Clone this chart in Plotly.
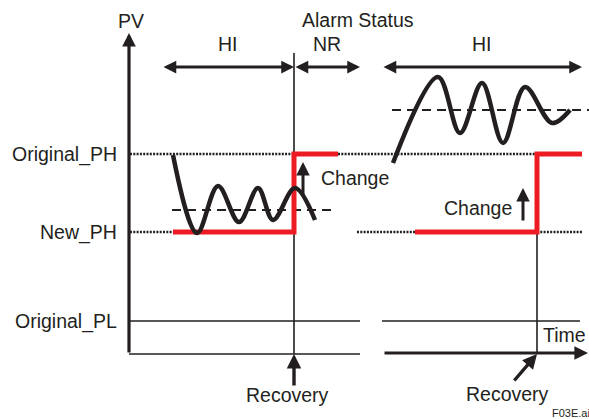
import plotly.graph_objects as go

W, H = 589, 419
_INK = "#231f20"
_RED = "#ed1c24"
_FONT = "Arial, Liberation Sans, Helvetica, sans-serif"

# diagram units: x = time, y = PV drawn downwards (same scale as the page)
LEVEL_NAMES = ["Original_PH", "New_PH", "Original_PL"]
LEVEL_Y = [154, 232, 321]
TIME_Y = 354
AXIS_X = 129
PV_TOP = 33
RECOVERY_T = [294, 537]

# dotted alarm setpoint guides: (level, t_start, t_end)
DOTTED = [
    (154, 130, 294), (154, 338, 537),
    (232, 130, 173), (232, 357, 415), (232, 537, 582),
]
# solid thin guides
SOLID = [
    (321, 129, 360), (321, 382, 580),
    (354, 129, 360),
]

# process value samples
PV_LEFT_T = [173, 197, 218, 239, 258, 273, 295, 315]
PV_LEFT_V = [155, 233, 186, 222, 188, 220, 188, 220]
PV_RIGHT_T = [393, 438, 460, 482, 503, 525, 552, 570]
PV_RIGHT_V = [163, 77, 133, 83, 143, 87, 123, 110]

# mean PV (dashed)
MEAN_LEFT = (210, 172, 337)
MEAN_RIGHT = (110, 392, 589)

# PH setpoint steps (red)
PH_LEFT_T = [173, 294, 294, 338]
PH_LEFT_V = [232, 232, 154, 154]
PH_RIGHT_T = [415, 537, 537, 582]
PH_RIGHT_V = [232, 232, 154, 154]

# alarm status spans
STATUS_Y = 67
STATUS = [("HI", 162, 294), ("NR", 294, 360), ("HI", 382, 582)]

fig = go.Figure()


def _line(x, y, color=_INK, width=1.6, dash="solid", shape="linear"):
    fig.add_trace(go.Scatter(
        x=x, y=y, mode="lines", hoverinfo="skip", showlegend=False,
        line=dict(color=color, width=width, dash=dash, shape=shape, smoothing=1.0),
    ))


def _arrow(x0, y0, x1, y1, width=3, both=False, size=0.85):
    fig.add_annotation(
        x=x1, y=y1, ax=x0, ay=y0, xref="x", yref="y", axref="x", ayref="y",
        text="", showarrow=True, arrowhead=2, arrowsize=size, arrowwidth=width,
        arrowcolor=_INK, arrowside="end+start" if both else "end",
        standoff=0, startstandoff=0, startarrowhead=2, startarrowsize=size,
    )


def _text(x, y, s, size=19.5, anchor="center"):
    fig.add_annotation(
        x=x, y=y, xref="x", yref="y", text=s, showarrow=False,
        xanchor=anchor, yanchor="middle",
        font=dict(family=_FONT, size=size, color=_INK),
    )


for lv, t0, t1 in DOTTED:
    _line([t0, t1], [lv, lv], width=2.3, dash="2px,1.3px")
for lv, t0, t1 in SOLID:
    _line([t0, t1], [lv, lv], width=1.7)

_line([RECOVERY_T[0], RECOVERY_T[0]], [53, TIME_Y], width=1.6)
_line([RECOVERY_T[1], RECOVERY_T[1]], [LEVEL_Y[0], TIME_Y], width=1.6)

for lv, t0, t1 in (MEAN_LEFT, MEAN_RIGHT):
    _line([t0, t1], [lv, lv], width=2, dash="9px,6px")

_line(PH_LEFT_T, PH_LEFT_V, color=_RED, width=5)
_line(PH_RIGHT_T, PH_RIGHT_V, color=_RED, width=5)

_line(PV_LEFT_T, PV_LEFT_V, width=4.5, shape="spline")
_line(PV_RIGHT_T, PV_RIGHT_V, width=4.5, shape="spline")

# axes drawn as arrows
_arrow(AXIS_X, TIME_Y, AXIS_X, PV_TOP, width=3.2)
_arrow(383, 353, 588, 353, width=3.2)

for label, t0, t1 in STATUS:
    _arrow(t0, STATUS_Y, t1, STATUS_Y, width=3, both=True)
    _text((t0 + t1) / 2, 44, label)

_arrow(303, 196, 303, 162, width=3, size=0.9)
_arrow(523, 222, 523, 188, width=3, size=0.9)
_arrow(294, 387, 294, 354, width=3.4)
_arrow(513, 382, 537, 354, width=3.4)

_text(131, 21, "PV")
_text(358, 20, "Alarm Status")
for name, lv in zip(LEVEL_NAMES, LEVEL_Y):
    _text(119, lv, name, anchor="right")
_text(319, 178, "Change", anchor="left")
_text(442, 208, "Change", anchor="left")
_text(564, 335, "Time")
_text(287, 395, "Recovery")
_text(507, 394, "Recovery")
_text(571, 413, "F03E.ai", size=11)

fig.update_layout(
    width=W, height=H, margin=dict(l=0, r=0, t=0, b=0),
    paper_bgcolor="#ffffff", plot_bgcolor="#ffffff",
    xaxis=dict(range=[0, W], visible=False, fixedrange=True),
    yaxis=dict(range=[H, 0], visible=False, fixedrange=True),
)
fig.write_html(
    "out.html", config=dict(displayModeBar=False),
    post_script="document.body.style.margin='0px';",
)
